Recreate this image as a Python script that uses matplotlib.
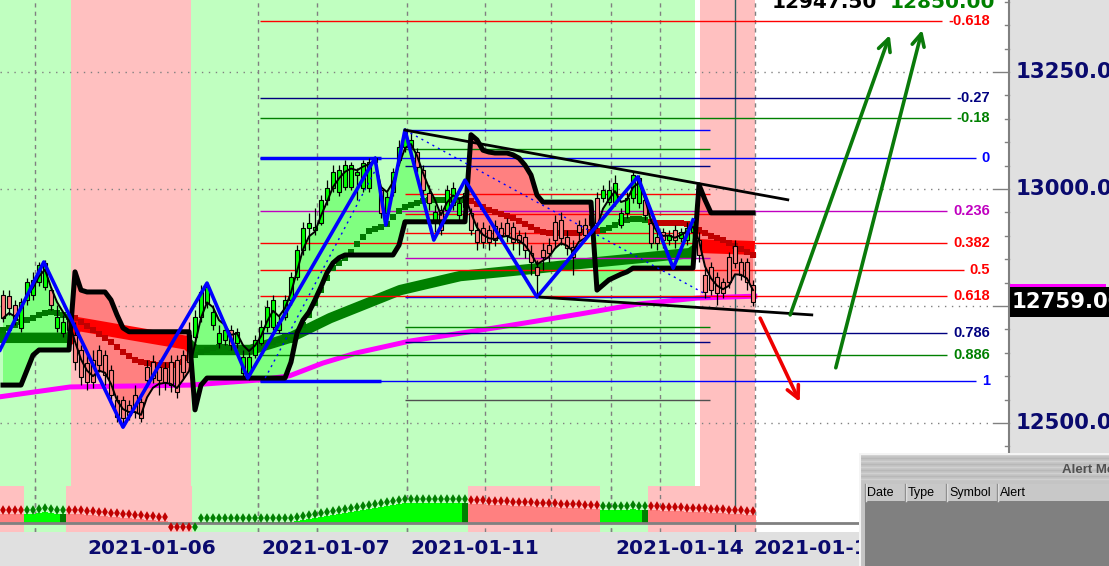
import matplotlib
matplotlib.use('Agg')
import matplotlib.pyplot as plt
import matplotlib.transforms as mtransforms
from matplotlib.patches import Rectangle
from matplotlib.lines import Line2D
import numpy as np
import pandas as pd


# ---------------- data ----------------
opens = [
    12774, 12771, 12752, 12703, 12763, 12774, 12801, 12791, 12784, 12703,
    12692, 12720, 12688, 12656, 12628, 12635, 12656, 12645, 12613, 12549,
    12549, 12539, 12560, 12545, 12620, 12630, 12620, 12618, 12630, 12635,
    12645, 12688, 12684, 12727, 12756, 12709, 12671, 12677, 12699, 12671,
    12607, 12607, 12645, 12671, 12705, 12705, 12699, 12727, 12763, 12812,
    12870, 12917, 12912, 12927, 12977, 13002, 12994, 13004, 13004, 13030,
    13002, 13002, 13058, 12998, 12949, 12994, 13062, 13090, 13090, 13079,
    13041, 12992, 12934, 12955, 12955, 12966, 12945, 12962, 12949, 12912,
    12917, 12912, 12921, 12917, 12927, 12919, 12902, 12897, 12863, 12833,
    12870, 12880, 12930, 12934, 12897, 12876, 12923, 12923, 12945, 12981,
    12981, 12972, 12972, 12923, 12949, 12981, 12970, 12977, 12927, 12897,
    12908, 12891, 12912, 12895, 12891, 12908, 12891, 12816, 12833, 12812,
    12801, 12855, 12878, 12844, 12844, 12795]
highs = [
    12784, 12784, 12763, 12767, 12810, 12823, 12844, 12848, 12791, 12752,
    12731, 12724, 12716, 12667, 12645, 12656, 12667, 12656, 12624, 12560,
    12558, 12549, 12581, 12553, 12635, 12645, 12635, 12630, 12645, 12645,
    12656, 12716, 12741, 12795, 12801, 12752, 12709, 12709, 12709, 12703,
    12656, 12652, 12688, 12720, 12763, 12774, 12731, 12774, 12823, 12880,
    12930, 12949, 12959, 12987, 13019, 13051, 13051, 13062, 13058, 13045,
    13062, 13066, 13071, 13007, 12994, 13045, 13105, 13130, 13122, 13088,
    13051, 13009, 12966, 12966, 13009, 13015, 12981, 13009, 12959, 12930,
    12930, 12923, 12934, 12930, 12938, 12930, 12912, 12908, 12880, 12848,
    12885, 12895, 12945, 12951, 12912, 12891, 12934, 12938, 12955, 12994,
    13009, 13019, 13030, 12959, 12994, 13036, 13030, 12987, 12938, 12908,
    12917, 12912, 12923, 12917, 12930, 12938, 12908, 12831, 12844, 12823,
    12810, 12865, 12891, 12853, 12853, 12806]
lows = [
    12716, 12731, 12709, 12695, 12752, 12763, 12793, 12784, 12741, 12695,
    12684, 12688, 12613, 12581, 12570, 12575, 12609, 12581, 12539, 12502,
    12491, 12506, 12511, 12502, 12581, 12586, 12560, 12570, 12566, 12553,
    12596, 12618, 12667, 12716, 12746, 12699, 12660, 12667, 12656, 12660,
    12596, 12592, 12639, 12667, 12695, 12699, 12692, 12720, 12752, 12806,
    12859, 12870, 12902, 12923, 12966, 12994, 12985, 12998, 12998, 12977,
    12994, 12994, 13051, 12938, 12923, 12985, 13051, 13079, 13073, 13036,
    12987, 12955, 12908, 12902, 12945, 12955, 12934, 12951, 12902, 12870,
    12874, 12870, 12878, 12891, 12887, 12870, 12859, 12853, 12816, 12769,
    12827, 12844, 12874, 12880, 12859, 12816, 12891, 12891, 12912, 12917,
    12972, 12966, 12964, 12917, 12938, 12970, 12959, 12934, 12874, 12870,
    12874, 12880, 12874, 12887, 12880, 12900, 12844, 12767, 12774, 12752,
    12767, 12789, 12831, 12806, 12784, 12750]
closes = [
    12724, 12746, 12720, 12759, 12801, 12806, 12838, 12842, 12752, 12727,
    12716, 12699, 12630, 12598, 12588, 12588, 12624, 12603, 12560, 12513,
    12511, 12517, 12524, 12511, 12592, 12596, 12592, 12588, 12581, 12566,
    12609, 12630, 12727, 12780, 12791, 12737, 12692, 12699, 12667, 12695,
    12641, 12641, 12677, 12705, 12748, 12763, 12716, 12763, 12812, 12870,
    12917, 12927, 12919, 12977, 13002, 13036, 13041, 13051, 13051, 13036,
    13056, 13058, 13066, 12949, 12983, 13036, 13090, 13122, 13105, 13047,
    12998, 12970, 12951, 12912, 12998, 13002, 12970, 12992, 12912, 12887,
    12887, 12887, 12891, 12902, 12902, 12887, 12887, 12870, 12844, 12816,
    12855, 12863, 12891, 12895, 12874, 12855, 12908, 12902, 12923, 12927,
    12998, 12998, 13013, 12949, 12981, 13030, 13024, 12945, 12885, 12885,
    12891, 12902, 12891, 12908, 12917, 12930, 12859, 12780, 12784, 12778,
    12778, 12801, 12842, 12816, 12801, 12759]

# trailing stop (thick black)
stop_line = [
    12581, 12581, 12581, 12581, 12613, 12645, 12656, 12656, 12656, 12656,
    12656, 12656, 12823, 12784, 12780, 12780, 12780, 12780, 12763, 12731,
    12703, 12695, 12695, 12695, 12695, 12695, 12695, 12695, 12695, 12695,
    12695, 12695, 12528, 12581, 12596, 12596, 12596, 12596, 12596, 12596,
    12596, 12596, 12596, 12596, 12596, 12596, 12596, 12596, 12630, 12692,
    12720, 12737, 12763, 12791, 12821, 12842, 12853, 12859, 12859, 12859,
    12859, 12859, 12859, 12859, 12859, 12859, 12880, 12930, 12930, 12930,
    12930, 12930, 12930, 12930, 12930, 12930, 12930, 12930, 13116, 13105,
    13083, 13079, 13077, 13077, 13077, 13073, 13066, 13051, 13030, 12987,
    12972, 12972, 12972, 12972, 12972, 12972, 12972, 12972, 12972, 12784,
    12795, 12806, 12812, 12818, 12823, 12831, 12831, 12831, 12831, 12831,
    12831, 12831, 12831, 12831, 12831, 12831, 13009, 12977, 12949, 12949,
    12949, 12949, 12949, 12949, 12949, 12949]

# medium moving average (square markers)
mid_avg = [
    12699, 12703, 12709, 12716,
    12720, 12724, 12731, 12735, 12737, 12735, 12731, 12727,
    12724, 12716, 12707, 12699, 12690, 12682, 12673, 12662, 12652, 12643,
    12635, 12630, 12628, 12626, 12624, 12624, 12624, 12624, 12630, 12639,
    12645, 12652, 12656, 12660, 12662, 12662, 12660, 12658, 12656, 12654,
    12656, 12660, 12667, 12673, 12677, 12684,
    12677, 12692, 12709, 12731, 12756, 12784, 12810, 12831, 12842, 12853,
    12865, 12882, 12897, 12910, 12915, 12919, 12925, 12940, 12953, 12962,
    12966, 12970, 12974, 12977, 12977, 12977, 12977, 12977, 12977, 12977,
    12974, 12968, 12962, 12955, 12951, 12947, 12942, 12938, 12932, 12925,
    12919, 12912, 12908, 12906, 12906, 12906, 12906, 12906, 12906, 12908,
    12908, 12910,
    12912, 12917, 12923, 12930, 12934, 12936, 12936, 12934,
    12930, 12927, 12927, 12927, 12927, 12927, 12925, 12921,
    12912, 12906, 12900, 12895, 12891, 12885, 12878, 12872, 12865, 12859]
mid_red_spans = [(12, 31), (78, 99), (108, 125)]

# long moving average band (vertices: bar, price)
band_x = [-0.5, 11.2, 12.2, 21.2, 30.8, 32.0, 41.2, 47.8, 54.5, 66.2, 76.2, 89.5, 94.5, 114.5, 116.2, 125.3]
band_y = [12682, 12682, 12712, 12692, 12671, 12656, 12656, 12682, 12724, 12784, 12814, 12831, 12838, 12863, 12878, 12874]

# 200 average (magenta)
ma200_x = [-0.5, 11.2, 31.2, 42.8, 47.8, 53.3, 59.0, 67.8, 82.8, 96.2, 105.7, 115.7, 125.3]
ma200_y = [12556, 12577, 12581, 12592, 12601, 12628, 12650, 12675, 12705, 12733, 12754, 12767, 12771]

# zigzag swings
zz_x = [-0.5, 6.8, 20.0, 34.0, 40.8, 62.0, 63.8, 67.0, 71.8, 77.0, 89.0, 105.8, 111.7, 115.0]
zz_y = [12656, 12844, 12491, 12799, 12596, 13066, 12923, 13126, 12891, 13019, 12769, 13026, 12831, 12934]
dotted_legs = [((43.7, 62.5), (12596, 13051)), ((67.0, 117.3), (13126, 12774))]

# channel trend lines
trend_lines = [((67.0, 130.8), (13126, 12977)), ((89.5, 134.8), (12769, 12731))]

# projection arrows (tail, head)
arrows = [((131.2, 12731), (147.8, 13329), '#0a7a0a'),
          ((138.8, 12618), (153.2, 13340), '#0a7a0a'),
          ((126.2, 12724), (132.8, 12545), '#ee0000')]

# fibonacci
fib_ratios = [-0.618, -0.27, -0.18, 0, 0.236, 0.382, 0.5, 0.618, 0.786, 0.886, 1]
fib_labels = ['-0.618', '-0.27', '-0.18', '0', '0.236', '0.382', '0.5', '0.618', '0.786', '0.886', '1']
fib_colors = ['#ff0000', '#000080', '#008000', '#0000ff', '#c000c0', '#ff0000',
              '#ff0000', '#ff0000', '#000080', '#008000', '#0000ff']
fib_hi, fib_lo = 13066, 12590
fib_start = 42.8
fib2_hi, fib2_lo = 13126, 12769
fib2_span = (67.0, 117.8)
fib2_colors = ['#505050', '#000080', '#008000', '#0000ff', '#c000c0', '#ff0000',
               '#ff0000', '#ff0000', '#000080', '#008000', '#0000ff']

# zones
green_zones = [(-0.5, 11.33), (31.33, 115.3)]
pink_zones = [(11.33, 31.33), (116.2, 125.3)]

# lower oscillator
osc_vals = [
    9, 9, 9, 9,
    9, 9, 10, 11, 10, 9, 9,
    9,
    9, 9, 8, 8, 7, 7, 6, 6, 5, 5, 4, 4, 3, 3, 2, 2,
    -1, -1, -1, -1,
    -1,
    1, 1, 1, 1, 1, 1, 1, 1, 1, 1, 1, 1, 1, 1, 1,
    1, 2, 3, 4, 5, 6, 7, 8, 9, 10, 11, 12, 13, 14, 15, 16, 17, 18, 19, 20,
    20, 20, 20, 20, 20, 20, 20, 20, 20, 20,
    19, 19, 19, 18, 18, 18, 18, 17, 17, 17, 17, 16, 16, 16, 16, 15, 15, 15, 15, 14, 14, 14,
    13, 13, 13, 13, 13, 14, 13, 13,
    13, 13, 12, 12, 12, 12, 11, 11, 11, 11, 10, 10, 10, 9, 9, 9, 8, 8]
osc_state = ('rrrr' + 'gggggg' + 'd' + 'r' + 'r' * 20 + 'g' * 16 + 'g' * 20
             + 'g' * 9 + 'd' + 'r' * 22 + 'g' * 7 + 'd' + 'r' * 18)

vgrid = [5.3, 42.5, 52.3, 67.3, 80.3, 91.3, 101.3, 109.5, 125.3]
cursor_x = 122
hgrid = [12500, 12750, 13000, 13250]
axis_prices = [13250, 13000, 12500]   # 12750 sits under the price box
date_pos = [24.8, 53.8, 78.7, 112.8, 135.8]
date_labels = ['2021-01-06', '2021-01-07', '2021-01-11', '2021-01-14', '2021-01-15']
last_price = 12759.00
top_quotes = ['12947.50', '12850.00']

# ---------------- figure ----------------
W, H = 1109, 566
px_pt = 2.137   # price units per pixel


def fx(px):
    return px / W


def fy(py):
    return 1 - py / H


fig = plt.figure(figsize=(W / 100, H / 100), dpi=100)
fig.patch.set_facecolor('#e0e0e0')

ax = fig.add_axes([0, fy(532), fx(1009), 532 / H])
ax.set_xlim(-0.5, 167.67)
ax.set_ylim(12267, 13404)
ax.set_facecolor('white')
ax.set_xticks([])
ax.set_yticks([])
for s in ax.spines.values():
    s.set_visible(False)

n = len(closes)
x = np.arange(n)

for a, b in green_zones:
    ax.axvspan(a, b, color='#c0ffc0', lw=0, zorder=0)
for a, b in pink_zones:
    ax.axvspan(a, b, color='#ffc0c0', lw=0, zorder=0)

ax.hlines(hgrid, -0.5, 165.0, colors='#808080', linestyles=(0, (1, 4)), lw=1, zorder=1)
ax.vlines(vgrid, 12267, 13404, colors='#808080', linestyles=(0, (3, 3)), lw=1, zorder=1)
ax.axvline(cursor_x, color='#2f6060', lw=1, zorder=1)

# right axis ticks
for p in range(12300, 13401, 50):
    x0 = 165.0 if p % 250 == 0 else 167.0
    ax.plot([x0, 167.67], [p, p], color='#808080', lw=1, zorder=1, clip_on=False)

# fills between stop and fast average
fast = pd.Series(closes, dtype=float).ewm(span=3, adjust=False).mean().values
stop = np.array(stop_line, dtype=float)
ax.fill_between(x, stop, fast, where=stop <= fast, interpolate=True,
                color='#80ff80', lw=0, zorder=2)
ax.fill_between(x, stop, fast, where=stop > fast, interpolate=True,
                color='#ff8080', lw=0, zorder=2)

# long average band, colour by zone
for a, b in green_zones:
    ln, = ax.plot(band_x, band_y, color='#008000', lw=7.5, solid_capstyle='butt', zorder=3)
    ln.set_clip_path(Rectangle((a, 12267), b - a, 1137, transform=ax.transData))
for a, b in pink_zones:
    ln, = ax.plot(band_x, band_y, color='#ff0000', lw=10, solid_capstyle='butt', zorder=3)
    ln.set_clip_path(Rectangle((a, 12267), b - a, 1137, transform=ax.transData))

ax.plot(ma200_x, ma200_y, color='#ff00ff', lw=3.6, zorder=3)

# fibonacci levels
label_tr = mtransforms.blended_transform_factory(fig.transFigure, ax.transData)
fib_texts = []
for r, lab, col in zip(fib_ratios, fib_labels, fib_colors):
    p = fib_hi - r * (fib_hi - fib_lo)
    t = ax.text(fx(990), p, lab, transform=label_tr, ha='right', va='center',
                color=col, fontsize=10.5, fontweight='bold', family='Liberation Sans')
    fib_texts.append((t, p, col))
for r, col in zip(fib_ratios, fib2_colors):
    p = fib2_lo + r * (fib2_hi - fib2_lo)
    ax.hlines(p, fib2_span[0], fib2_span[1], colors=col, lw=1, zorder=3.5)
ax.hlines([fib_hi, fib_lo], fib_start, 63.0, colors='#0000ff', lw=2.5, zorder=3.5)

# medium average squares
mid_cols = ['#007800'] * n
for a, b in mid_red_spans:
    for i in range(a, b + 1):
        mid_cols[i] = '#c00000'
ax.scatter(x, mid_avg, marker='s', s=20, c=mid_cols, lw=0, zorder=4)

# candles
body_lo = np.minimum(opens, closes)
body_h = np.abs(np.array(closes) - np.array(opens))
body_cols = ['#00ff00' if c >= o else '#ff8080' for o, c in zip(opens, closes)]
ax.vlines(x, lows, highs, colors='black', lw=0.9, zorder=4.9)
ax.bar(x, body_h, bottom=body_lo, width=0.62, color=body_cols,
       edgecolor='black', linewidth=0.8, zorder=5)

ax.plot(x, fast, color='black', lw=1.4, zorder=6)
ax.plot(x, stop, color='black', lw=3.6, zorder=6)

# zigzag, legs and channel
for lx, ly in dotted_legs:
    ax.plot(lx, ly, color='#0000ff', lw=1, ls=(0, (1.5, 3)), zorder=6.5)
ax.plot(zz_x, zz_y, color='#0000ff', lw=2.6, zorder=7)
for lx, ly in trend_lines:
    ax.plot(lx, ly, color='black', lw=2, zorder=7)
for tail, head, col in arrows:
    ax.annotate('', xy=head, xytext=tail, zorder=8,
                arrowprops=dict(arrowstyle='->', color=col, lw=2.6,
                                mutation_scale=22, shrinkA=0, shrinkB=0))

# fib lines end just before their labels
fig.canvas.draw()
inv = ax.transData.inverted()
for t, p, col in fib_texts:
    bb = t.get_window_extent()
    x_end = inv.transform((bb.x0 - 6, 0))[0]
    ax.hlines(p, fib_start, x_end, colors=col, lw=1, zorder=3.5)

# right price axis
ax.add_artist(Line2D([1.0, 1.0], [0, 1], transform=ax.transAxes, color='#808080', lw=1.5, clip_on=False))
for p in axis_prices:
    ax.text(fx(1016), p, f'{p:.1f}', transform=label_tr, ha='left', va='center',
            fontsize=15.3, fontweight='bold', color='#0a0a6e', family='DejaVu Sans')
ax.add_patch(Rectangle((fx(1010), ma200_y[-1] - 12 * px_pt), fx(96), 24 * px_pt,
                       transform=label_tr, facecolor='#ff00ff', lw=0, clip_on=False, zorder=10))
ax.add_patch(Rectangle((fx(1010), last_price - 15 * px_pt), fx(99), 30 * px_pt,
                       transform=label_tr, facecolor='black', lw=0, clip_on=False, zorder=11))
ax.text(fx(1012), last_price, f'{last_price:.2f}', transform=label_tr, ha='left', va='center',
        fontsize=15.3, fontweight='bold', color='white', family='DejaVu Sans', zorder=12)

# quotes at the top edge
fig.text(fx(772), fy(8), top_quotes[0], ha='left', va='baseline', fontsize=14.5,
         fontweight='bold', color='black', family='DejaVu Sans')
fig.text(fx(890), fy(8), top_quotes[1], ha='left', va='baseline', fontsize=14.5,
         fontweight='bold', color='#008000', family='DejaVu Sans')

# dates
date_tr = mtransforms.blended_transform_factory(ax.transData, fig.transFigure)
for xp, lab in zip(date_pos, date_labels):
    ax.text(xp, fy(549), lab, transform=date_tr, ha='center', va='center',
            fontsize=14.5, fontweight='bold', color='#0a0a6e', family='DejaVu Sans')

# ---------------- lower oscillator ----------------
ax2 = fig.add_axes([0, fy(532), fx(1009), 46 / H])
ax2.set_xlim(ax.get_xlim())
ax2.set_ylim(-9, 37)
ax2.patch.set_alpha(0)
ax2.set_xticks([])
ax2.set_yticks([])
for s in ax2.spines.values():
    s.set_visible(False)

i = 0
while i < n:
    j = i
    while j + 1 < n and osc_state[j + 1] == osc_state[i]:
        j += 1
    if osc_state[i] == 'r':
        ax2.axvspan(i - 0.5, j + 0.5, color='#ffc0c0', lw=0, zorder=0)
    i = j + 1
ax2.vlines(vgrid, -9, 37, colors='#808080', linestyles=(0, (3, 3)), lw=1, zorder=1)
ax2.axvline(cursor_x, color='#2f6060', lw=1, zorder=1)

fill_map = {'r': '#ff8080', 'g': '#00ff00', 'd': '#008000'}
dot_map = {'r': '#c00000', 'g': '#008000', 'd': '#008000'}
ax2.bar(x, osc_vals, width=1.0, color=[fill_map[s] for s in osc_state], lw=0, zorder=2)
dot_y = [v + 4 if v >= 0 else v - 3 for v in osc_vals]
ax2.scatter(x, dot_y, marker='d', s=24, c=[dot_map[s] for s in osc_state], lw=0, zorder=3)
ax2.axhline(0, color='#808080', lw=2, zorder=2.5)

# ---------------- alert window ----------------
aw = fig.add_axes([fx(859), 0, 1 - fx(859), 113 / H])
aw.set_xlim(859, 1109)
aw.set_ylim(566, 453)
aw.axis('off')
aw.add_patch(Rectangle((859, 453), 250, 113, facecolor='#c4c4c4', edgecolor='none'))
for k, yy in enumerate(range(455, 482, 3)):
    aw.plot([859, 1109], [yy, yy], color='#b8b8b8' if k % 2 else '#d0d0d0', lw=1)
aw.plot([859, 1109], [453.5, 453.5], color='#f4f4f4', lw=1.5)
aw.plot([859.5, 859.5], [453, 566], color='#f4f4f4', lw=1.5)
aw.add_patch(Rectangle((865, 484), 244, 82, facecolor='#808080', edgecolor='none'))
aw.add_patch(Rectangle((865, 484), 244, 17, facecolor='#c8c8c8', edgecolor='none'))
for sx in [865, 905, 946, 997]:
    aw.plot([sx + 0.5, sx + 0.5], [484, 501], color='#f0f0f0', lw=1)
    aw.plot([sx - 0.5, sx - 0.5], [484, 501], color='#909090', lw=1)
for tx, lab in zip([867, 908, 949, 1000], ['Date', 'Type', 'Symbol', 'Alert']):
    aw.text(tx, 493, lab, ha='left', va='center', fontsize=9, color='black',
            family='Liberation Sans')
aw.text(1062, 470, 'Alert Messages', ha='left', va='center', fontsize=9.5,
        fontweight='bold', color='#505050', family='Liberation Sans')

fig.savefig('out.png', dpi=100)
